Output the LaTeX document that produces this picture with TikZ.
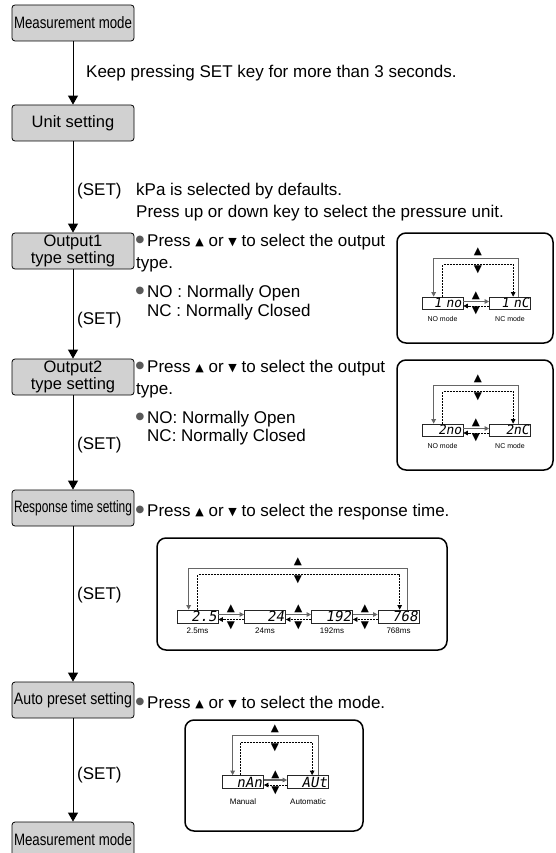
\documentclass[tikz,border=0pt]{standalone}
\usepackage{fontspec}
\setmainfont{Liberation Sans}
\newfontfamily\symf{DejaVu Sans}
\newfontfamily\segf{DejaVu Sans Mono}[FakeSlant=0.18]
\usetikzlibrary{arrows.meta,calc}
\newcommand\tup{\raisebox{1pt}{\symf\fontsize{11}{11}\selectfont ▲}}
\newcommand\tdn{\raisebox{1pt}{\symf\fontsize{11}{11}\selectfont ▼}}
\newcommand\fitw[1]{\resizebox{118pt}{\height}{#1}}
\begin{document}
\begin{tikzpicture}[x=1pt,y=-1pt,
  stepbox/.style={draw=black,line width=0.8pt,fill=black!18,rounded corners=3pt,
    minimum width=122pt,minimum height=36pt,inner sep=0pt,align=center,
    font=\fontsize{16.5}{16.5}\selectfont},
  flow/.style={line width=0.9pt,-{Triangle[width=10pt,length=9pt]}},
  txt/.style={anchor=base west,inner sep=0pt,font=\fontsize{17}{17}\selectfont},
  bul/.style={anchor=center,inner sep=0pt,font=\symf\fontsize{10}{10}\selectfont,text=black!65},
  panel/.style={draw=black,line width=1.5pt,rounded corners=9pt},
  disp/.style={draw=black!85,line width=0.7pt,minimum width=41pt,minimum height=12pt,
    inner sep=0pt,text width=38pt,align=right,font=\segf\fontsize{13}{13}\selectfont},
  lab/.style={inner sep=0pt,font=\fontsize{7}{7}\selectfont},
  tri/.style={inner sep=0pt,font=\symf\fontsize{10.5}{10.5}\selectfont},
  cyc/.style={draw=black!60,line width=1.1pt},
  dashln/.style={draw=black,line width=0.7pt,dash pattern=on 2pt off 1pt},
  sarr/.style={-{Triangle[width=4.5pt,length=4.5pt]}},
]
\useasboundingbox (0,0) rectangle (556,853);
% flow boxes
\node[stepbox] (m1) at (73,23) {\fitw{Measurement mode}};
\node[stepbox] (unit) at (73,123) {Unit setting};
\node[stepbox] (o1) at (73,251) {Output1\\type setting};
\node[stepbox] (o2) at (73,377) {Output2\\type setting};
\node[stepbox] (rt) at (73,508) {\fitw{Response time setting}};
\node[stepbox] (ap) at (73,700) {\fitw{Auto preset setting}};
\node[stepbox] (m2) at (73,840) {\fitw{Measurement mode}};
\draw[flow] (m1) -- (unit);
\draw[flow] (unit) -- (o1);
\draw[flow] (o1) -- (o2);
\draw[flow] (o2) -- (rt);
\draw[flow] (rt) -- (ap);
\draw[flow] (ap) -- (m2);
% texts
\node[txt] (t0) at (86,78) {Keep pressing SET key for more than 3 seconds.};
\node[txt] (s1) at (77,196) {(SET)};
\node[txt] (t1a) at (136,196) {kPa is selected by defaults.};
\node[txt] (t1b) at (136,217) {Press up or down key to select the pressure unit.};
% output1 text
\node[bul] (b1) at (140,240) {●};
\node[txt] (t2) at (147,246) {Press \tup\ or \tdn\ to select the output};
\node[txt] (t3) at (136,268) {type.};
\node[bul] (b2) at (140,291) {●};
\node[txt] (t4) at (147,297) {NO : Normally Open};
\node[txt] (t5) at (147,316) {NC : Normally Closed};
\node[txt] (s2) at (77,324) {(SET)};
% output2 text
\node[bul] (b3) at (140,366) {●};
\node[txt] (t6) at (147,372) {Press \tup\ or \tdn\ to select the output};
\node[txt] (t7) at (136,394) {type.};
\node[bul] (b4) at (140,417) {●};
\node[txt] (t8) at (147,423) {NO: Normally Open};
\node[txt] (t9) at (147,441) {NC: Normally Closed};
\node[txt] (s3) at (77,449) {(SET)};
% response text
\node[bul] (b5) at (140,510) {●};
\node[txt] (t10) at (147,516) {Press \tup\ or \tdn\ to select the response time.};
\node[txt] (s4) at (77,599) {(SET)};
% auto text
\node[bul] (b6) at (140,702) {●};
\node[txt] (t11) at (147,708) {Press \tup\ or \tdn\ to select the mode.};
\node[txt] (s5) at (77,779) {(SET)};

% ---------- panel 1
\draw[panel] (397,233) rectangle (553,343);
\node[disp] (a1) at (442.5,303) {1\,\,no};
\node[disp] (a2) at (510,303) {1\,\,nC};
\draw[cyc,sarr] ($(a2.north west)+(29,0)$) -- ++(0,-38) -| ($(a1.north west)+(12,0)$);
\draw[dashln,sarr] ($(a1.north west)+(21,0)$) -- ++(0,-32) -| ($(a2.north west)+(24,0)$);
\node[tri] (a3) at (478,252) {▲};
\node[tri] (a4) at (478,270) {▼};
\draw[cyc,sarr] ($(a1.east)+(0,-1.5)$) -- ($(a2.west)+(0,-1.5)$);
\draw[dashln,sarr] ($(a2.west)+(0,3)$) -- ($(a1.east)+(0,3)$);
\node[tri] (a5) at (476,296) {▲};
\node[tri] (a6) at (476,311) {▼};
\node[lab] (a7) at (442.5,319) {NO mode};
\node[lab] (a8) at (510,319) {NC mode};

% ---------- panel 2
\draw[panel] (397,360) rectangle (553,470);
\node[disp] (c1) at (442.5,430) {2no};
\node[disp] (c2) at (510,430) {2nC};
\draw[cyc,sarr] ($(c2.north west)+(29,0)$) -- ++(0,-38) -| ($(c1.north west)+(12,0)$);
\draw[dashln,sarr] ($(c1.north west)+(21,0)$) -- ++(0,-32) -| ($(c2.north west)+(24,0)$);
\node[tri] (c3) at (478,379) {▲};
\node[tri] (c4) at (478,397) {▼};
\draw[cyc,sarr] ($(c1.east)+(0,-1.5)$) -- ($(c2.west)+(0,-1.5)$);
\draw[dashln,sarr] ($(c2.west)+(0,3)$) -- ($(c1.east)+(0,3)$);
\node[tri] (c5) at (476,423) {▲};
\node[tri] (c6) at (476,438) {▼};
\node[lab] (c7) at (442.5,446) {NO mode};
\node[lab] (c8) at (510,446) {NC mode};

% ---------- response panel
\draw[panel] (157,538) rectangle (447,650);
\node[disp,minimum height=13pt,font=\segf\fontsize{14}{14}\selectfont] (r1) at (197.5,616.5) {2.5};
\node[disp,minimum height=13pt,font=\segf\fontsize{14}{14}\selectfont] (r2) at (265,616.5) {24};
\node[disp,minimum height=13pt,font=\segf\fontsize{14}{14}\selectfont] (r3) at (332,616.5) {192};
\node[disp,minimum height=13pt,font=\segf\fontsize{14}{14}\selectfont] (r4) at (398.5,616.5) {768};
\draw[cyc,sarr] ($(r4.north west)+(30,0)$) -- ++(0,-41) -| ($(r1.north west)+(12,0)$);
\draw[dashln,sarr] ($(r1.north west)+(21,0)$) -- ++(0,-35) -| ($(r4.north west)+(22,0)$);
\node[tri] (r5) at (298,562) {▲};
\node[tri] (r6) at (298,580) {▼};
\foreach \p/\q/\m in {r1/r2/231,r2/r3/298.5,r3/r4/365}{
  \draw[cyc,sarr] ($(\p.east)+(0,-2)$) -- ($(\q.west)+(0,-2)$);
  \draw[dashln,sarr] ($(\q.west)+(0,3)$) -- ($(\p.east)+(0,3)$);
  \node[tri] (\p up) at (\m,609) {▲};
  \node[tri] (\p dn) at (\m,626) {▼};
}
\node[lab,font=\fontsize{8}{8}\selectfont] (r7) at (197.5,631) {2.5ms};
\node[lab,font=\fontsize{8}{8}\selectfont] (r8) at (265,631) {24ms};
\node[lab,font=\fontsize{8}{8}\selectfont] (r9) at (332,631) {192ms};
\node[lab,font=\fontsize{8}{8}\selectfont] (r10) at (398.5,631) {768ms};

% ---------- auto panel
\draw[panel] (185,720) rectangle (363,831);
\node[disp,minimum height=13pt,font=\segf\fontsize{14}{14}\selectfont] (u1) at (243,782) {nAn};
\node[disp,minimum height=13pt,font=\segf\fontsize{14}{14}\selectfont] (u2) at (308,782) {AUt};
\draw[cyc,sarr] ($(u2.north west)+(31,0)$) -- ++(0,-39.5) -| ($(u1.north west)+(10.5,0)$);
\draw[dashln,sarr] ($(u1.north west)+(18,0)$) -- ++(0,-32.5) -| ($(u2.north west)+(25,0)$);
\node[tri] (u3) at (275,729) {▲};
\node[tri] (u4) at (275,748) {▼};
\draw[cyc,sarr] ($(u1.east)+(0,-2)$) -- ($(u2.west)+(0,-2)$);
\draw[dashln,sarr] ($(u2.west)+(0,3)$) -- ($(u1.east)+(0,3)$);
\node[tri] (u5) at (275.5,775) {▲};
\node[tri] (u6) at (275.5,791) {▼};
\node[lab,font=\fontsize{8}{8}\selectfont] (u7) at (243,802) {Manual};
\node[lab,font=\fontsize{8}{8}\selectfont] (u8) at (308,802) {Automatic};
\end{tikzpicture}
\end{document}
